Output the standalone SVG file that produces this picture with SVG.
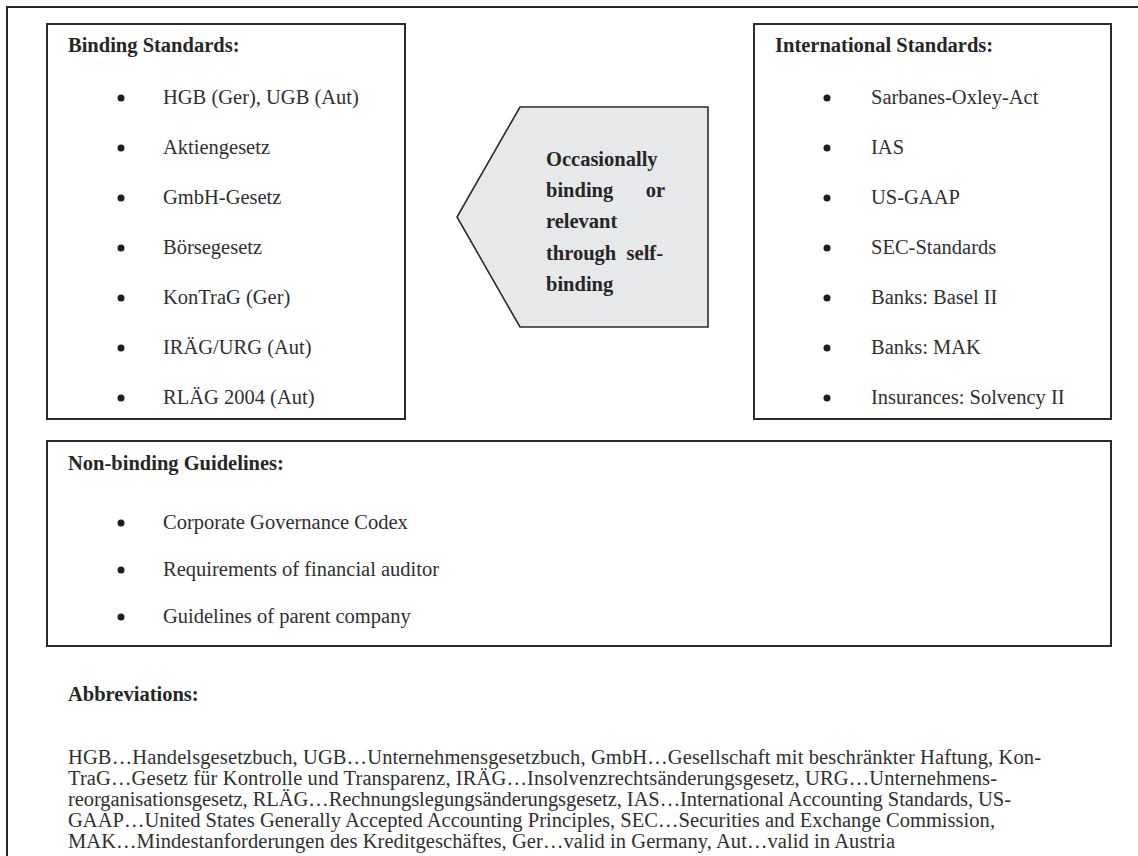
<svg xmlns="http://www.w3.org/2000/svg" width="1138" height="856" viewBox="0 0 1138 856">
  <style>
    .frame { fill: none; stroke: #262626; stroke-width: 2; }
    .box { fill: #ffffff; stroke: #2b2b2b; stroke-width: 2; }
    .arrow { fill: #e7e8e9; stroke: #2b2b2b; stroke-width: 1.6; }
    .t { font-family: "Liberation Serif", "Times New Roman", serif; font-size: 20.5px; fill: #2f2f2f; }
    .b { font-weight: bold; fill: #262626; }
    .p { font-family: "Liberation Serif", "Times New Roman", serif; font-size: 20.5px; fill: #2f2f2f; }
    .dot { fill: #1e1e1e; }
  </style>

  <!-- outer frame (right and bottom edges lie outside the page) -->
  <rect class="frame" x="7" y="7" width="1200" height="900"/>

  <!-- Binding standards -->
  <g id="binding-standards">
    <rect class="box" x="47" y="24" width="358" height="395"/>
    <text class="t b" x="68" y="52">Binding Standards:</text>
    <circle class="dot" cx="121" cy="98" r="3.5"/>
    <text class="t" x="163" y="104">HGB (Ger), UGB (Aut)</text>
    <circle class="dot" cx="121" cy="148" r="3.5"/>
    <text class="t" x="163" y="154">Aktiengesetz</text>
    <circle class="dot" cx="121" cy="198" r="3.5"/>
    <text class="t" x="163" y="204">GmbH-Gesetz</text>
    <circle class="dot" cx="121" cy="248" r="3.5"/>
    <text class="t" x="163" y="254">Börsegesetz</text>
    <circle class="dot" cx="121" cy="298" r="3.5"/>
    <text class="t" x="163" y="304">KonTraG (Ger)</text>
    <circle class="dot" cx="121" cy="348" r="3.5"/>
    <text class="t" x="163" y="354">IRÄG/URG (Aut)</text>
    <circle class="dot" cx="121" cy="398" r="3.5"/>
    <text class="t" x="163" y="404">RLÄG 2004 (Aut)</text>
  </g>

  <!-- International standards -->
  <g id="international-standards">
    <rect class="box" x="754" y="24" width="357" height="395"/>
    <text class="t b" x="775" y="52">International Standards:</text>
    <circle class="dot" cx="827" cy="98" r="3.5"/>
    <text class="t" x="871" y="104">Sarbanes-Oxley-Act</text>
    <circle class="dot" cx="827" cy="148" r="3.5"/>
    <text class="t" x="871" y="154">IAS</text>
    <circle class="dot" cx="827" cy="198" r="3.5"/>
    <text class="t" x="871" y="204">US-GAAP</text>
    <circle class="dot" cx="827" cy="248" r="3.5"/>
    <text class="t" x="871" y="254">SEC-Standards</text>
    <circle class="dot" cx="827" cy="298" r="3.5"/>
    <text class="t" x="871" y="304">Banks: Basel II</text>
    <circle class="dot" cx="827" cy="348" r="3.5"/>
    <text class="t" x="871" y="354">Banks: MAK</text>
    <circle class="dot" cx="827" cy="398" r="3.5"/>
    <text class="t" x="871" y="404">Insurances: Solvency II</text>
  </g>

  <!-- Pentagon pointing left towards the binding standards -->
  <g id="occasionally-binding">
    <polygon class="arrow" points="520,107 708,107 708,327 520,327 457,217"/>
    <text class="t b" x="546" y="166">Occasionally</text>
    <text class="t b" x="546" y="197">binding</text>
    <text class="t b" x="665" y="197" text-anchor="end">or</text>
    <text class="t b" x="546" y="228">relevant</text>
    <text class="t b" x="546" y="260">through</text>
    <text class="t b" x="663" y="260" text-anchor="end">self-</text>
    <text class="t b" x="546" y="291">binding</text>
  </g>

  <!-- Non-binding guidelines -->
  <g id="non-binding-guidelines">
    <rect class="box" x="47" y="441" width="1064" height="205"/>
    <text class="t b" x="68" y="470">Non-binding Guidelines:</text>
    <circle class="dot" cx="121" cy="523" r="3.5"/>
    <text class="t" x="163" y="529">Corporate Governance Codex</text>
    <circle class="dot" cx="121" cy="570" r="3.5"/>
    <text class="t" x="163" y="576">Requirements of financial auditor</text>
    <circle class="dot" cx="121" cy="617" r="3.5"/>
    <text class="t" x="163" y="623">Guidelines of parent company</text>
  </g>

  <!-- Abbreviations -->
  <g id="abbreviations">
    <text class="t b" x="68" y="701">Abbreviations:</text>
    <text class="p" x="68" y="764" textLength="973" lengthAdjust="spacing">HGB…Handelsgesetzbuch, UGB…Unternehmensgesetzbuch, GmbH…Gesellschaft mit beschränkter Haftung, Kon-</text>
    <text class="p" x="68" y="785" textLength="929" lengthAdjust="spacing">TraG…Gesetz für Kontrolle und Transparenz, IRÄG…Insolvenzrechtsänderungsgesetz, URG…Unternehmens-</text>
    <text class="p" x="68" y="806" textLength="943" lengthAdjust="spacing">reorganisationsgesetz, RLÄG…Rechnungslegungsänderungsgesetz, IAS…International Accounting Standards, US-</text>
    <text class="p" x="68" y="827" textLength="927" lengthAdjust="spacing">GAAP…United States Generally Accepted Accounting Principles, SEC…Securities and Exchange Commission,</text>
    <text class="p" x="68" y="848" textLength="827" lengthAdjust="spacing">MAK…Mindestanforderungen des Kreditgeschäftes, Ger…valid in Germany, Aut…valid in Austria</text>
  </g>

  <!-- no connectors: the pentagon itself carries the direction -->
  <g id="connectors"/>
</svg>
